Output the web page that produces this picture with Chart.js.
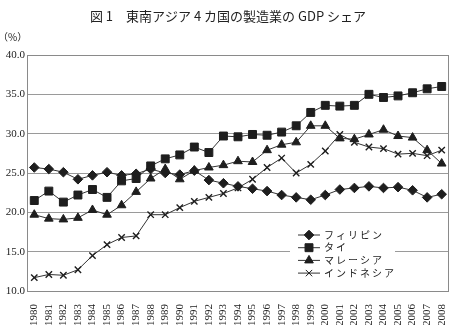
<!DOCTYPE html>
<html>
<head>
<meta charset="utf-8">
<script src="https://cdn.jsdelivr.net/npm/chart.js@4.4.1/dist/chart.umd.min.js"></script>
<style>
  html, body { margin: 0; padding: 0; background: #fff; }
  #wrap { width: 460px; height: 325px; }
</style>
</head>
<body>
<div id="wrap"><canvas id="gdp-chart" width="460" height="325"></canvas></div>
<script>
// DATA
var years = ["1980","1981","1982","1983","1984","1985","1986","1987","1988","1989",
             "1990","1991","1992","1993","1994","1995","1996","1997","1998","1999",
             "2000","2001","2002","2003","2004","2005","2006","2007","2008"];
var philippines = [25.7,25.5,25.1,24.2,24.7,25.1,24.7,24.9,25.5,25.0,24.8,25.3,24.1,23.7,23.3,
                   23.0,22.7,22.2,21.9,21.6,22.2,22.9,23.1,23.3,23.1,23.2,22.8,21.9,22.3];
var thailand = [21.5,22.7,21.3,22.2,22.9,21.9,24.0,24.3,25.9,26.8,27.3,28.3,27.6,29.7,29.6,
                29.9,29.8,30.2,31.0,32.7,33.6,33.5,33.6,35.0,34.6,34.8,35.2,35.7,36.0];
var malaysia = [19.7,19.2,19.1,19.3,20.3,19.7,20.9,22.6,24.3,25.5,24.2,25.3,25.7,26.0,26.5,
                26.4,27.9,28.6,28.9,31.0,31.0,29.4,29.3,29.9,30.5,29.7,29.5,27.9,26.2];
var indonesia = [11.7,12.1,12.0,12.7,14.5,15.9,16.8,17.0,19.7,19.7,20.6,21.4,21.9,22.4,23.1,
                 24.2,25.7,26.9,25.0,26.1,27.8,29.9,28.9,28.3,28.1,27.4,27.5,27.2,27.9];
var seriesNames = ["フィリピン", "タイ", "マレーシア", "インドネシア"];
var yTicks = [10, 15, 20, 25, 30, 35, 40];

var titleText = "図 1　東南アジア 4 カ国の製造業の GDP シェア";
var serif = "'Liberation Serif', 'DejaVu Serif', serif";
var jp = "'Noto Sans CJK JP', 'Liberation Serif', serif";

function makeSet(label, data, style, radius, bw) {
    return {
        label: label,
        data: data,
        borderColor: "#333",
        borderWidth: 1,
        pointStyle: style,
        pointRadius: radius,
        pointBackgroundColor: "#1e1e1e",
        pointBorderColor: "#1e1e1e",
        pointBorderWidth: bw,
        tension: 0
    };
}

// draws title, unit, frame and legend
var decorations = {
    id: "decorations",
    afterDraw: function (chart) {
        var ctx = chart.ctx;
        var a = chart.chartArea;
        ctx.save();
        ctx.fillStyle = "#222";
        ctx.textBaseline = "middle";
        ctx.textAlign = "center";
        ctx.font = "13px " + jp;
        ctx.fillText(titleText, 228, 16);
        ctx.textAlign = "left";
        ctx.font = "10px " + jp;
        ctx.fillText("（%）", -2, 37);

        // frame
        ctx.strokeStyle = "#8a8a8a";
        ctx.lineWidth = 1;
        ctx.strokeRect(Math.round(a.left) + 0.5, Math.round(a.top) + 0.5,
                       Math.round(a.right - a.left) - 1, Math.round(a.bottom - a.top));

        // legend
        ctx.fillStyle = "#fff";
        ctx.fillRect(290, 228, 105, 52);
        var y0 = 235;
        chart.data.datasets.forEach(function (ds, i) {
            var y = y0 + i * 12.7;
            ctx.strokeStyle = "#333";
            ctx.lineWidth = 1;
            ctx.beginPath();
            ctx.moveTo(298, y);
            ctx.lineTo(320, y);
            ctx.stroke();
            ctx.fillStyle = "#1e1e1e";
            ctx.strokeStyle = "#1e1e1e";
            Chart.helpers.drawPoint(ctx, {
                pointStyle: ds.pointStyle,
                radius: ds.pointRadius,
                rotation: 0,
                borderWidth: ds.pointBorderWidth
            }, 309, y);
            ctx.fillStyle = "#222";
            ctx.font = "10px " + jp;
            ctx.letterSpacing = "2px";
            ctx.textAlign = "left";
            ctx.fillText(ds.label, 324, y);
            ctx.letterSpacing = "0px";
        });
        ctx.restore();
    }
};

const config = {
    type: "line",
    data: {
        labels: years,
        datasets: [
            makeSet(seriesNames[0], philippines, "rectRot", 4.8, 1),
            makeSet(seriesNames[1], thailand, "rect", 5.6, 1),
            makeSet(seriesNames[2], malaysia, "triangle", 5, 1),
            makeSet(seriesNames[3], indonesia, "crossRot", 4.5, 1.4)
        ]
    },
    options: {
        responsive: false,
        animation: false,
        layout: { padding: { top: 55, right: 2, left: 0, bottom: -6 } },
        plugins: {
            legend: { display: false },
            title: { display: false },
            tooltip: { enabled: false }
        },
        scales: {
            x: {
                offset: true,
                grid: { display: false },
                border: { display: false },
                ticks: {
                    autoSkip: false,
                    minRotation: 90,
                    maxRotation: 90,
                    padding: 5,
                    color: "#222",
                    font: { family: serif, size: 11 }
                }
            },
            y: {
                min: 10,
                max: 40,
                afterBuildTicks: function (scale) {
                    scale.ticks = yTicks.map(function (v) { return { value: v }; });
                },
                afterFit: function (scale) { scale.width = 27; },
                grid: { color: "#9a9a9a", lineWidth: 1, drawTicks: false },
                border: { display: false },
                ticks: {
                    padding: 2,
                    color: "#222",
                    font: { family: serif, size: 11 },
                    callback: function (v) { return Number(v).toFixed(1); }
                }
            }
        }
    },
    plugins: [decorations]
};

const gdpChart = new Chart(document.getElementById("gdp-chart"), config);
</script>
</body>
</html>
